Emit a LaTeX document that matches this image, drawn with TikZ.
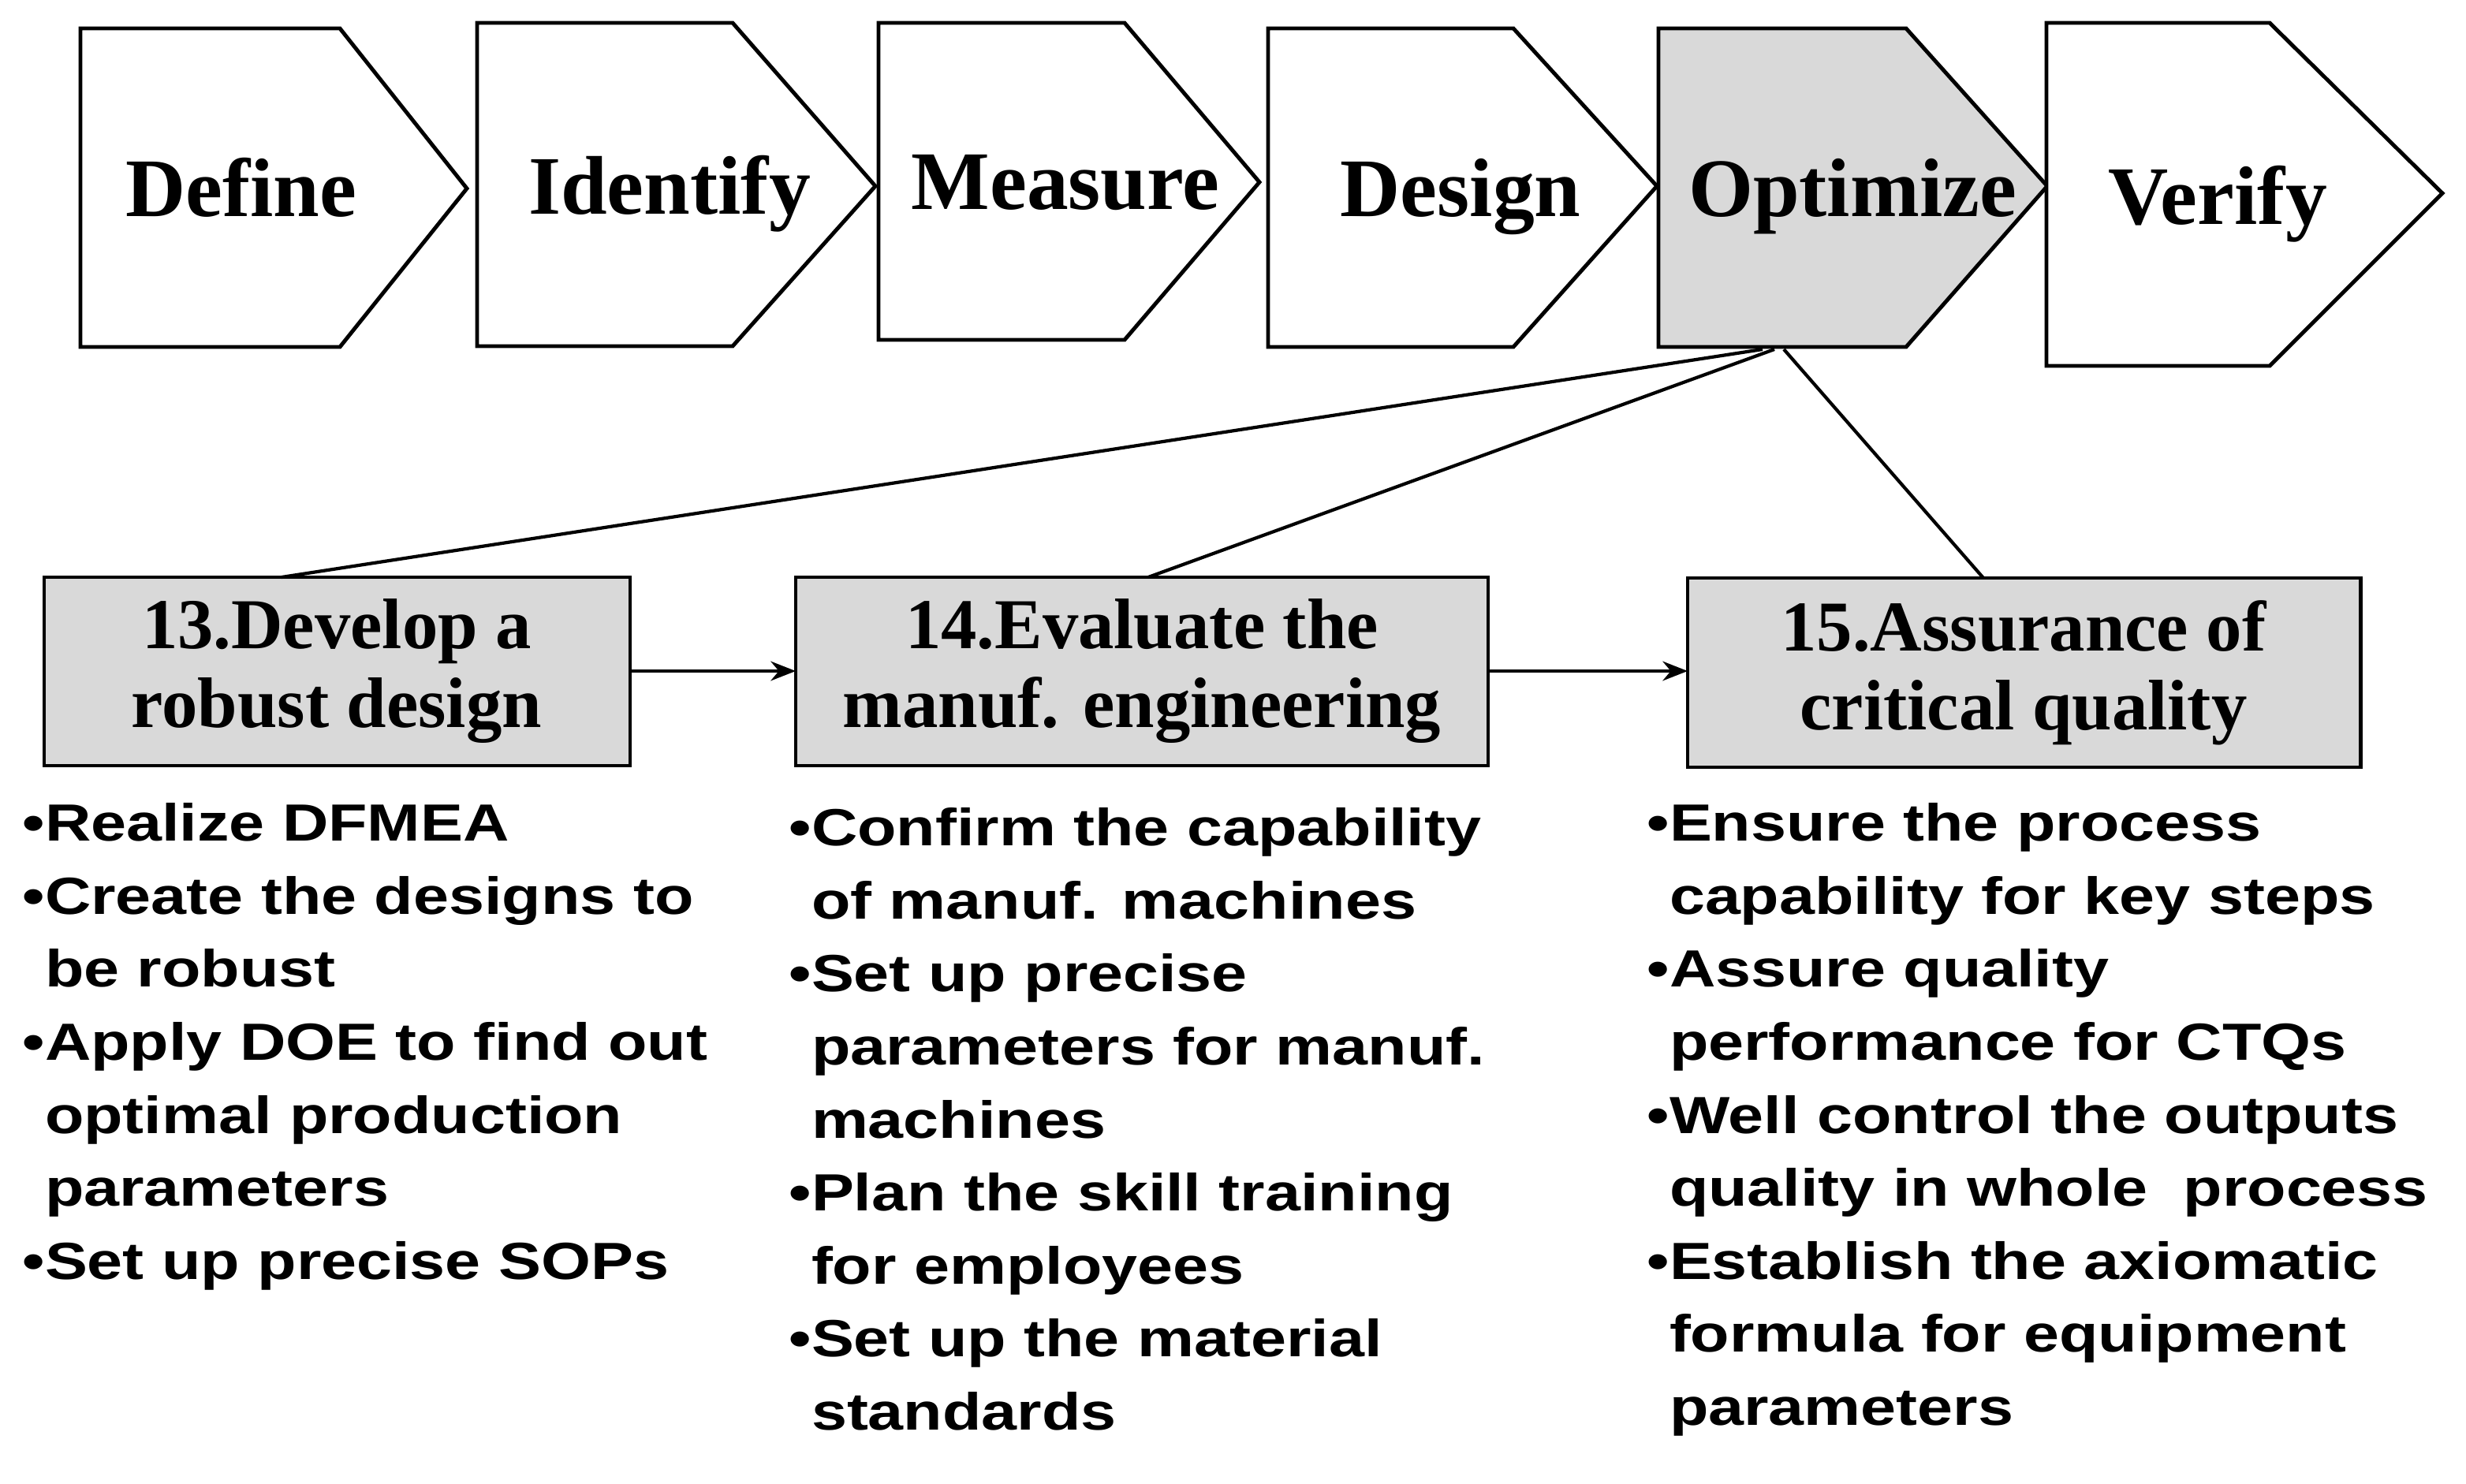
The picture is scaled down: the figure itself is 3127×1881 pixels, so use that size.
\documentclass[tikz,border=0pt]{standalone}
\usepackage{fontspec}
\setmainfont{Liberation Serif}
\newfontfamily\arialb{Liberation Sans}[BoldFont={* Bold}]
\usetikzlibrary{arrows.meta}
\tikzset{
  chev/.style={draw=black,line width=1.4pt,fill=white,line join=miter},
  chevtxt/.style={anchor=base,inner sep=0pt,font=\fontsize{30}{34}\selectfont\bfseries},
  gbox/.style={draw=black,line width=1.4pt,fill=boxgray},
  boxtxt/.style={align=center,inner sep=0pt,font=\fontsize{25.8}{28.4}\selectfont\bfseries},
  conn/.style={line width=1.2pt,draw=black},
  arr/.style={line width=1.2pt,-{Stealth[length=9pt,width=7pt]}},
  bul/.style={anchor=north west,inner sep=0pt}
}
\definecolor{boxgray}{HTML}{D9D9D9}
\newcommand{\bultext}[2]{\scalebox{1}[0.82]{\parbox[t]{#1}{\raggedright\arialb\bfseries\fontsize{23}{32.1}\selectfont #2}}}
\newcommand{\ind}{\phantom{•}}
\begin{document}
\begin{tikzpicture}[x=0.01cm,y=-0.01cm]
\useasboundingbox (0,0) rectangle (3127,1881);
% chevrons
\draw[chev] (102,36) -- (431,36) -- (592,239) -- (431,440) -- (102,440) -- cycle;
\draw[chev] (605,29) -- (929,29) -- (1110,236) -- (929,439) -- (605,439) -- cycle;
\draw[chev] (1114,29) -- (1426,29) -- (1597,231) -- (1426,431) -- (1114,431) -- cycle;
\draw[chev] (1608,36) -- (1919,36) -- (2101,236) -- (1919,440) -- (1608,440) -- cycle;
\draw[chev,fill=boxgray] (2103,36) -- (2417,36) -- (2596,236) -- (2417,440) -- (2103,440) -- cycle;
\draw[chev] (2595,29) -- (2878,29) -- (3097,245) -- (2878,464) -- (2595,464) -- cycle;
\node[chevtxt] (define) at (306,274) {Define};
\node[chevtxt] (identify) at (849,271) {Identify};
\node[chevtxt] (measure) at (1351,265) {Measure};
\node[chevtxt] (design) at (1852,274) {Design};
\node[chevtxt] (optimize) at (2349,274) {Optimize};
\node[chevtxt] (verify) at (2812,284) {Verify};
% boxes
\draw[gbox] (56,732) rectangle (799,971);
\draw[gbox] (1009,732) rectangle (1887,971);
\draw[gbox] (2140,733) rectangle (2993,973);
\node[boxtxt] (b13) at (427,851) {13.Develop a\\robust design};
\node[boxtxt] (b14) at (1448,851) {14.Evaluate the\\manuf. engineering};
\node[boxtxt] (b15) at (2566,853) {15.Assurance of\\critical quality};
% connectors
\coordinate (o1) at (2235,443);
\coordinate (o2) at (2250,443);
\coordinate (o3) at (2262,443);
\coordinate (t13) at (357,732);
\coordinate (t14) at (1456,732);
\coordinate (t15) at (2515,733);
\draw[conn] (o1) -- (t13);
\draw[conn] (o2) -- (t14);
\draw[conn] (o3) -- (t15);
\coordinate (r13) at (799,851);
\coordinate (l14) at (1009,851);
\coordinate (r14) at (1887,851);
\coordinate (l15) at (2140,851);
\draw[arr] (r13) -- (l14);
\draw[arr] (r14) -- (l15);
% bullets
\node[bul] (c1) at (28,1018) {\bultext{9.4cm}{•Realize DFMEA\\•Create the designs to\\\ind be robust\\•Apply DOE to find out\\\ind optimal production\\\ind parameters\\•Set up precise SOPs}};
\node[bul] (c2) at (1000,1024) {\bultext{9.8cm}{•Confirm the capability\\\ind of manuf. machines\\•Set up precise\\\ind parameters for manuf.\\\ind machines\\•Plan the skill training\\\ind for employees\\•Set up the material\\\ind standards}};
\node[bul] (c3) at (2088,1018) {\bultext{10.3cm}{•Ensure the process\\\ind capability for key steps\\•Assure quality\\\ind performance for CTQs\\•Well control the outputs\\\ind quality in whole\ \ process\\•Establish the axiomatic\\\ind formula for equipment\\\ind parameters}};
\end{tikzpicture}
\end{document}
